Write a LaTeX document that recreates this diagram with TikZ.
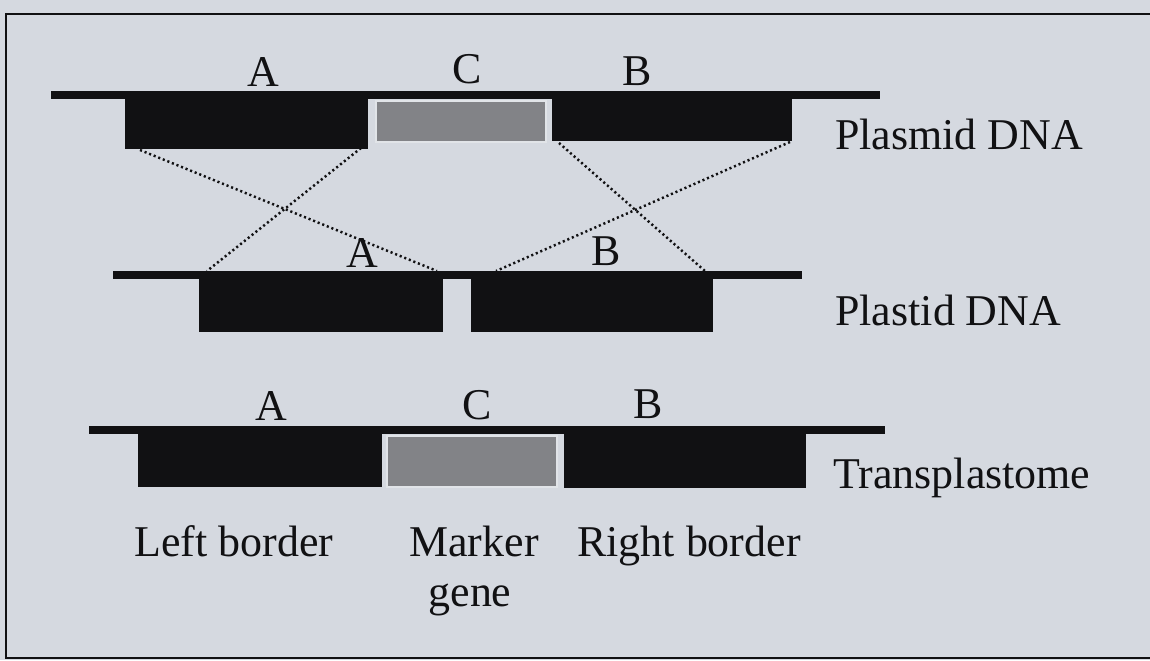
\documentclass[tikz,border=0pt]{standalone}
\usepackage{fontspec}
\setmainfont{Liberation Serif}
\usetikzlibrary{fit}
\definecolor{paper}{RGB}{213,217,224}
\definecolor{ink}{RGB}{17,17,19}
\definecolor{mgrey}{RGB}{130,131,135}
\definecolor{gapcol}{RGB}{225,228,232}
\begin{document}
\begin{tikzpicture}[x=0.02cm,y=-0.02cm,
  strand/.style={fill=ink,draw=none,inner sep=0pt,outer sep=0pt},
  blk/.style={fill=ink,draw=none,inner sep=0pt,outer sep=0pt},
  markerbox/.style={fill=mgrey,draw=gapcol,line width=0.9pt,inner sep=0pt,outer sep=0pt},
  lbl/.style={font=\fontsize{25}{29}\selectfont,text=ink,inner sep=0pt,anchor=base},
  side/.style={lbl,anchor=base west},
  cross/.style={draw=ink,line width=1.4pt,dash pattern=on 1.2pt off 1.6pt}]

% page and frame
\fill[paper] (0,0) rectangle (1150,660);
\useasboundingbox (0,0) rectangle (1150,660);
\draw[ink,line width=1.4pt] (1160,14) -- (6,14) -- (6,658) -- (1160,658);

% ---- plasmid DNA ----
\node[strand,fit={(51,91) (880,99)}] (pline) {};
\node[blk,fit={(125,95) (368,149)}] (pA) {};
\node[blk,fit={(552,95) (792,141)}] (pB) {};
\node[markerbox,fit={(376,101) (546,142)}] (pC) {};
\node[lbl] (pAl) at (263,86) {A};
\node[lbl] (pCl) at (467,83) {C};
\node[lbl] (pBl) at (637,85) {B};
\node[side] (plasmid) at (835,149) {Plasmid DNA};

% ---- plastid DNA ----
\node[strand,fit={(113,271) (802,279)}] (tline) {};
\node[blk,fit={(199,275) (443,332)}] (tA) {};
\node[blk,fit={(471,275) (713,332)}] (tB) {};
\node[lbl] (tAl) at (362,267) {A};
\node[lbl] (tBl) at (606,265) {B};
\node[side] (plastid) at (835,325) {Plastid DNA};

% ---- transplastome ----
\node[strand,fit={(89,426) (885,434)}] (sline) {};
\node[blk,fit={(138,430) (382,487)}] (sA) {};
\node[blk,fit={(564,433) (806,488)}] (sB) {};
\node[markerbox,fit={(387,436) (557,487)}] (sC) {};
\node[lbl] (sAl) at (271,420) {A};
\node[lbl] (sCl) at (477,419) {C};
\node[lbl] (sBl) at (648,418) {B};
\node[side] (transpl) at (833,488) {Transplastome};

% region names
\node[lbl] (left) at (234,556) {Left border};
\node[lbl] (marker) at (474,556) {Marker};
\node[lbl] (gene) at (470,606) {gene};
\node[lbl] (right) at (689,556) {Right border};

% crossover points of homologous recombination
\coordinate (a1) at (140,150);
\coordinate (a2) at (361,148);
\coordinate (b1) at (559,143);
\coordinate (b2) at (790,142);
\coordinate (c1) at (207,271);
\coordinate (c2) at (437,271);
\coordinate (d1) at (496,271);
\coordinate (d2) at (705,271);
\draw[cross] (a1) -- (c2);
\draw[cross] (a2) -- (c1);
\draw[cross] (b1) -- (d2);
\draw[cross] (b2) -- (d1);
\end{tikzpicture}
\end{document}
